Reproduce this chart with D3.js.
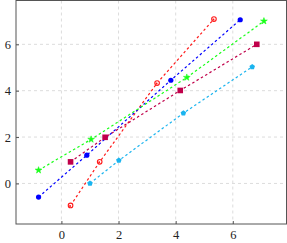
<!DOCTYPE html>
<html>
<head>
<meta charset="utf-8">
<script src="https://cdn.jsdelivr.net/npm/d3@7"></script>
<style>
  html, body { margin: 0; padding: 0; background: #fff; }
  #chart { width: 287px; height: 243px; }
</style>
</head>
<body>
<div id="chart"></div>
<script>
// series values
const redX = [0.32, 1.34, 3.35, 5.34];
const redY = [-0.95, 0.93, 4.33, 7.09];
const blueX = [-0.8, 0.89, 3.83, 6.26];
const blueY = [-0.59, 1.22, 4.45, 7.06];
const greenX = [-0.8, 1.04, 4.39, 7.09];
const greenY = [0.57, 1.9, 4.57, 7.0];
const crimsonX = [0.32, 1.53, 4.16, 6.84];
const crimsonY = [0.93, 1.99, 4.01, 6.0];
const cyanX = [1.0, 2.01, 4.27, 6.68];
const cyanY = [0.0, 0.99, 3.03, 5.03];

const xTicks = [0, 2, 4, 6];
const yTicks = [0, 2, 4, 6];

const series = [
  {name: 'red', xs: redX, ys: redY, color: '#ff1a1a', mark: 'oplus'},
  {name: 'blue', xs: blueX, ys: blueY, color: '#0000ff', mark: 'circle'},
  {name: 'green', xs: greenX, ys: greenY, color: '#19ff19', mark: 'star'},
  {name: 'crimson', xs: crimsonX, ys: crimsonY, color: '#c0004a', mark: 'square'},
  {name: 'cyan', xs: cyanX, ys: cyanY, color: '#1ab4ef', mark: 'pentagon'}
];

var margin = {top: 0.5, right: 0.5, bottom: 19, left: 16};
var W = 287, H = 243;
var width = W - margin.left - margin.right;
var height = H - margin.top - margin.bottom;

var svg = d3.select('#chart').append('svg')
  .attr('width', W)
  .attr('height', H);

const xScale = d3.scaleLinear().domain([-1.59, 7.88]).range([0, width]);
const yScale = d3.scaleLinear().domain([-1.75, 7.89]).range([height, 0]);

const plotArea = svg.append('g')
  .attr('transform', `translate(${margin.left}, ${margin.top})`);

// grid
plotArea.append('g')
  .selectAll('line')
  .data(xTicks)
  .join('line')
    .attr('x1', d => xScale(d)).attr('x2', d => xScale(d))
    .attr('y1', 0).attr('y2', height)
    .attr('stroke', '#dcdcdc')
    .attr('stroke-dasharray', '3,3');
plotArea.append('g')
  .selectAll('line')
  .data(yTicks)
  .join('line')
    .attr('y1', d => yScale(d)).attr('y2', d => yScale(d))
    .attr('x1', 0).attr('x2', width)
    .attr('stroke', '#dcdcdc')
    .attr('stroke-dasharray', '3,3');

// axes (ticks drawn inward like pgfplots)
const xAxis = plotArea.append('g')
  .attr('transform', `translate(0, ${height})`)
  .call(d3.axisBottom(xScale).tickValues(xTicks).tickSize(-3).tickPadding(6).tickFormat(d3.format('d')));
const yAxis = plotArea.append('g')
  .call(d3.axisLeft(yScale).tickValues(yTicks).tickSize(-3).tickPadding(5).tickFormat(d3.format('d')));
[xAxis, yAxis].forEach(a => {
  a.select('.domain').remove();
  a.selectAll('.tick line').attr('stroke', '#555');
  a.selectAll('text')
    .attr('font-family', '"Liberation Serif", "DejaVu Serif", serif')
    .attr('font-size', 12.5)
    .attr('fill', '#222');
});

// frame
plotArea.append('rect')
  .attr('x', 0).attr('y', 0)
  .attr('width', width).attr('height', height)
  .attr('fill', 'none')
  .attr('stroke', '#555')
  .attr('stroke-width', 1);

const line = d3.line()
  .x(d => xScale(d[0]))
  .y(d => yScale(d[1]));

const pentagon = {
  draw(ctx, size) {
    const r = Math.sqrt(size / 2.38);
    for (let i = 0; i < 5; i++) {
      const a = -Math.PI / 2 + i * 2 * Math.PI / 5;
      const px = r * Math.cos(a), py = r * Math.sin(a);
      if (i === 0) ctx.moveTo(px, py); else ctx.lineTo(px, py);
    }
    ctx.closePath();
  }
};

series.forEach(s => {
  const pts = s.xs.map((x, i) => [x, s.ys[i]]);
  plotArea.append('path')
    .datum(pts)
    .attr('d', line)
    .attr('fill', 'none')
    .attr('stroke', s.color)
    .attr('stroke-width', 1.2)
    .attr('stroke-dasharray', '2.5,2.5');

  const g = plotArea.append('g');
  pts.forEach(p => {
    const cx = xScale(p[0]), cy = yScale(p[1]);
    if (s.mark === 'oplus') {
      g.append('circle').attr('cx', cx).attr('cy', cy).attr('r', 2.3)
        .attr('fill', '#fff').attr('stroke', s.color).attr('stroke-width', 1.1);
      g.append('circle').attr('cx', cx - 0.5).attr('cy', cy + 0.5).attr('r', 1)
        .attr('fill', s.color);
    } else if (s.mark === 'circle') {
      g.append('circle').attr('cx', cx).attr('cy', cy).attr('r', 2.6).attr('fill', s.color);
    } else if (s.mark === 'star') {
      g.append('path').attr('d', d3.symbol(d3.symbolStar, 14)())
        .attr('transform', `translate(${cx},${cy})`).attr('fill', s.color)
        .attr('stroke', s.color).attr('stroke-width', 0.6);
    } else if (s.mark === 'square') {
      g.append('rect').attr('x', cx - 2.8).attr('y', cy - 2.8).attr('width', 5.6).attr('height', 5.6)
        .attr('fill', s.color);
    } else {
      g.append('path').attr('d', d3.symbol(pentagon, 20)())
        .attr('transform', `translate(${cx},${cy})`).attr('fill', s.color);
    }
  });
});
</script>
</body>
</html>
